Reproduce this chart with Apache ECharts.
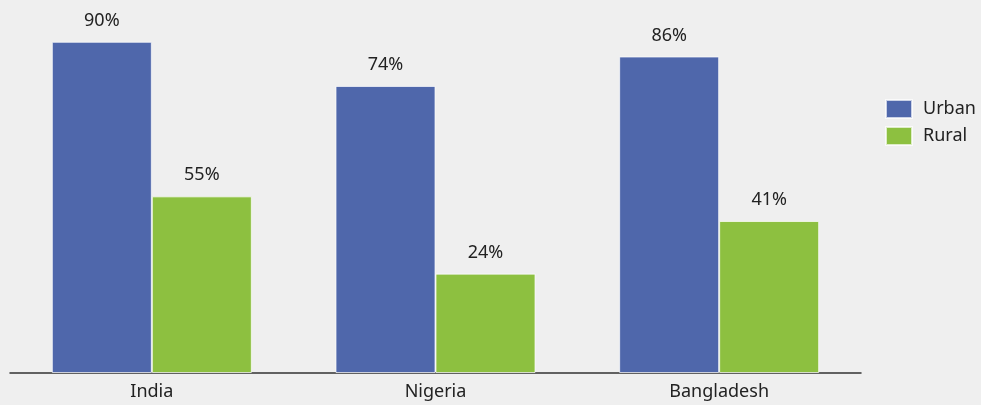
<!DOCTYPE html>
<html>
<head>
<meta charset="utf-8">
<script src="https://cdn.jsdelivr.net/npm/echarts@6/dist/echarts.min.js"></script>
<style>
  html, body { margin: 0; padding: 0; background: #efefef; }
  #chart { width: 981px; height: 405px; }
</style>
</head>
<body>
<div id="chart"></div>
<script>
// data
const categories = ['India', 'Nigeria', 'Bangladesh']
const urbanValues = [90, 78, 86]
const ruralValues = [48, 27, 41.3]
const urbanLabels = ['90%', '74%', '86%']
const ruralLabels = ['55%', '24%', '41%']

const font = 'Noto Sans'

function barSeries(name, data, labels, color) {
  return {
    name: name,
    type: 'bar',
    data: data,
    barWidth: 100,
    barGap: '0%',
    itemStyle: { color: color, borderColor: 'rgba(255,255,255,0.7)', borderWidth: 1 },
    label: {
      show: true,
      position: 'top',
      distance: 12,
      fontFamily: font,
      fontSize: 18,
      color: '#222',
      formatter: (p) => labels[p.dataIndex]
    }
  }
}

const chart = echarts.init(document.getElementById('chart'))
chart.setOption({
  backgroundColor: '#efefef',
  animation: false,
  grid: { left: 10, right: 120, top: 5, bottom: 32, containLabel: false },
  legend: {
    orient: 'vertical',
    left: 880,
    top: 94,
    itemWidth: 26,
    itemHeight: 18,
    itemGap: 7,
    icon: 'rect',
    textStyle: { fontFamily: font, fontSize: 18, color: '#222', padding: [8, 0, 0, 6] },
    data: ['Urban', 'Rural']
  },
  xAxis: {
    type: 'category',
    data: categories,
    axisLine: { lineStyle: { color: '#333', width: 1.5 } },
    axisTick: { show: false },
    axisLabel: { fontFamily: font, fontSize: 18, color: '#222', margin: 10 }
  },
  yAxis: {
    type: 'value',
    min: 0,
    max: 100,
    show: false
  },
  series: [
    barSeries('Urban', urbanValues, urbanLabels, '#4f67ab'),
    barSeries('Rural', ruralValues, ruralLabels, '#8dc040')
  ]
})
</script>
</body>
</html>
